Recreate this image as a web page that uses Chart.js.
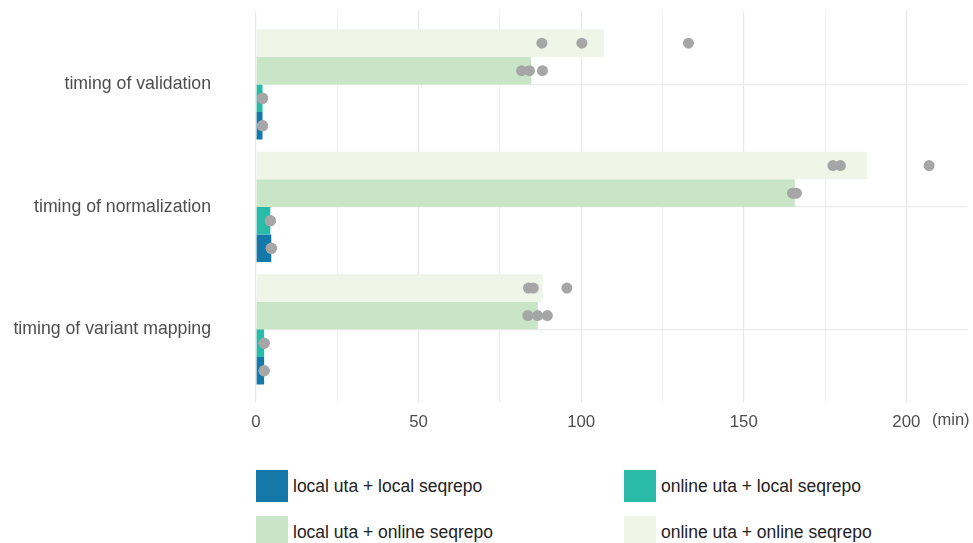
<!DOCTYPE html>
<html>
<head>
<meta charset="utf-8">
<script src="https://cdn.jsdelivr.net/npm/chart.js@4/dist/chart.umd.min.js"></script>
<style>
  body { margin: 0; background: #fff; font-family: "Liberation Sans", Arial, sans-serif; }
  #wrap { position: relative; width: 973px; height: 543px; overflow: hidden; }
  #box { position: absolute; left: 0; top: 0; width: 973px; height: 441px; }
  #unit { position: absolute; left: 932px; top: 410px; font-size: 16.5px; line-height: 19px; color: #4d4d4d; }
  .leg { position: absolute; display: flex; align-items: center; font-size: 17.5px; color: #222; }
  .leg span.sw { width: 32px; height: 32px; margin-right: 5px; display: inline-block; }
</style>
</head>
<body>
<div id="wrap">
  <div id="box"><canvas id="myChart"></canvas></div>
  <div id="unit">(min)</div>
  <div id="legend"></div>
</div>
<script>
// dados (minutos)
const categories = ['timing of validation', 'timing of normalization', 'timing of variant mapping'];
const seriesNames = ['online uta + online seqrepo', 'local uta + online seqrepo', 'online uta + local seqrepo', 'local uta + local seqrepo'];
const seriesColors = ['#eff6e8', '#c9e5c8', '#29bba8', '#1479a8'];

const onlineOnline = [107, 188, 88.2];
const localOnline = [84.6, 165.7, 86.7];
const onlineLocal = [2.0, 4.4, 2.5];
const localLocal = [2.0, 4.7, 2.5];

// repetições (pontos cinza), por categoria
const onlineOnlineRuns = [[87.9, 100.2, 133], [177.4, 179.7, 207], [83.8, 85.3, 95.6]];
const localOnlineRuns = [[81.7, 84.1, 88.1], [165.0, 165.4, 166.2], [83.6, 86.6, 89.6]];
const onlineLocalRuns = [[2.0, 2.0, 2.0], [4.4, 4.4, 4.4], [2.5, 2.5, 2.5]];
const localLocalRuns = [[2.0, 2.0, 2.0], [4.7, 4.7, 4.7], [2.5, 2.5, 2.5]];

const xTicks = [0, 50, 100, 150, 200];

const barValues = [onlineOnline, localOnline, onlineLocal, localLocal];
const runValues = [onlineOnlineRuns, localOnlineRuns, onlineLocalRuns, localLocalRuns];

const catPct = 0.9;
const nSeries = seriesNames.length;

// pontos: posição vertical dentro do grupo de barras
const points = [];
runValues.forEach((runs, s) => {
  const off = -catPct / 2 + catPct / nSeries * (s + 0.5);
  runs.forEach((vals, c) => {
    vals.forEach(v => points.push({ x: v, y: c + off }));
  });
});

const datasets = [{
  type: 'scatter',
  label: 'runs',
  data: points,
  order: -1,
  pointRadius: 5.5,
  pointBackgroundColor: '#a6a6a6',
  pointBorderWidth: 0,
  showLine: false
}];
barValues.forEach((vals, s) => {
  datasets.push({
    type: 'bar',
    label: seriesNames[s],
    data: vals.map((v, c) => ({ x: v, y: c })),
    backgroundColor: seriesColors[s],
    borderWidth: 0,
    categoryPercentage: catPct,
    barPercentage: 1
  });
});

const ctx = document.getElementById('myChart').getContext('2d');
const myChart = new Chart(ctx, {
  data: { datasets: datasets },
  options: {
    indexAxis: 'y',
    responsive: true,
    maintainAspectRatio: false,
    animation: false,
    layout: { padding: { top: 11, right: 2, left: 0, bottom: 0 } },
    scales: {
      x: {
        type: 'linear',
        min: 0,
        max: 218.8,
        offset: false,
        border: { display: false },
        grid: {
          drawTicks: false,
          offset: false,
          color: ctx => ctx.tick && ctx.tick.value % 50 === 0 ? '#e8e8e8' : '#efefef',
          lineWidth: ctx => ctx.tick && ctx.tick.value % 50 === 0 ? 1.2 : 1
        },
        afterBuildTicks: s => { s.ticks = [0, 25, 50, 75, 100, 125, 150, 175, 200].map(v => ({ value: v })); },
        ticks: {
          padding: 9,
          color: '#4d4d4d',
          font: { family: '"Liberation Sans", Arial, sans-serif', size: 16.8 },
          maxRotation: 0,
          autoSkip: false,
          callback: v => xTicks.includes(v) ? String(v) : ''
        }
      },
      y: {
        type: 'linear',
        reverse: true,
        min: -0.6,
        max: 2.6,
        offset: false,
        border: { display: false },
        grid: { drawTicks: false, offset: false, color: '#ebebeb', lineWidth: 1.2 },
        afterBuildTicks: s => { s.ticks = categories.map((c, i) => ({ value: i })); },
        afterFit: s => { s.width = 256; s.paddingTop = 0; s.paddingBottom = 0; },
        ticks: {
          padding: 45,
          color: '#4d4d4d',
          font: { family: '"Liberation Sans", Arial, sans-serif', size: 17.7 },
          callback: v => categories[v]
        }
      }
    },
    plugins: {
      legend: { display: false },
      tooltip: { enabled: false }
    }
  }
});

// legenda 2x2 em HTML
const legendOrder = [3, 2, 1, 0];
const legendPos = [[256, 470], [624, 470], [256, 516], [624, 516]];
const legend = document.getElementById('legend');
legendOrder.forEach((s, i) => {
  const d = document.createElement('div');
  d.className = 'leg';
  d.style.left = legendPos[i][0] + 'px';
  d.style.top = legendPos[i][1] + 'px';
  d.innerHTML = '<span class="sw" style="background:' + seriesColors[s] + '"></span>' + seriesNames[s];
  legend.appendChild(d);
});
</script>
</body>
</html>
